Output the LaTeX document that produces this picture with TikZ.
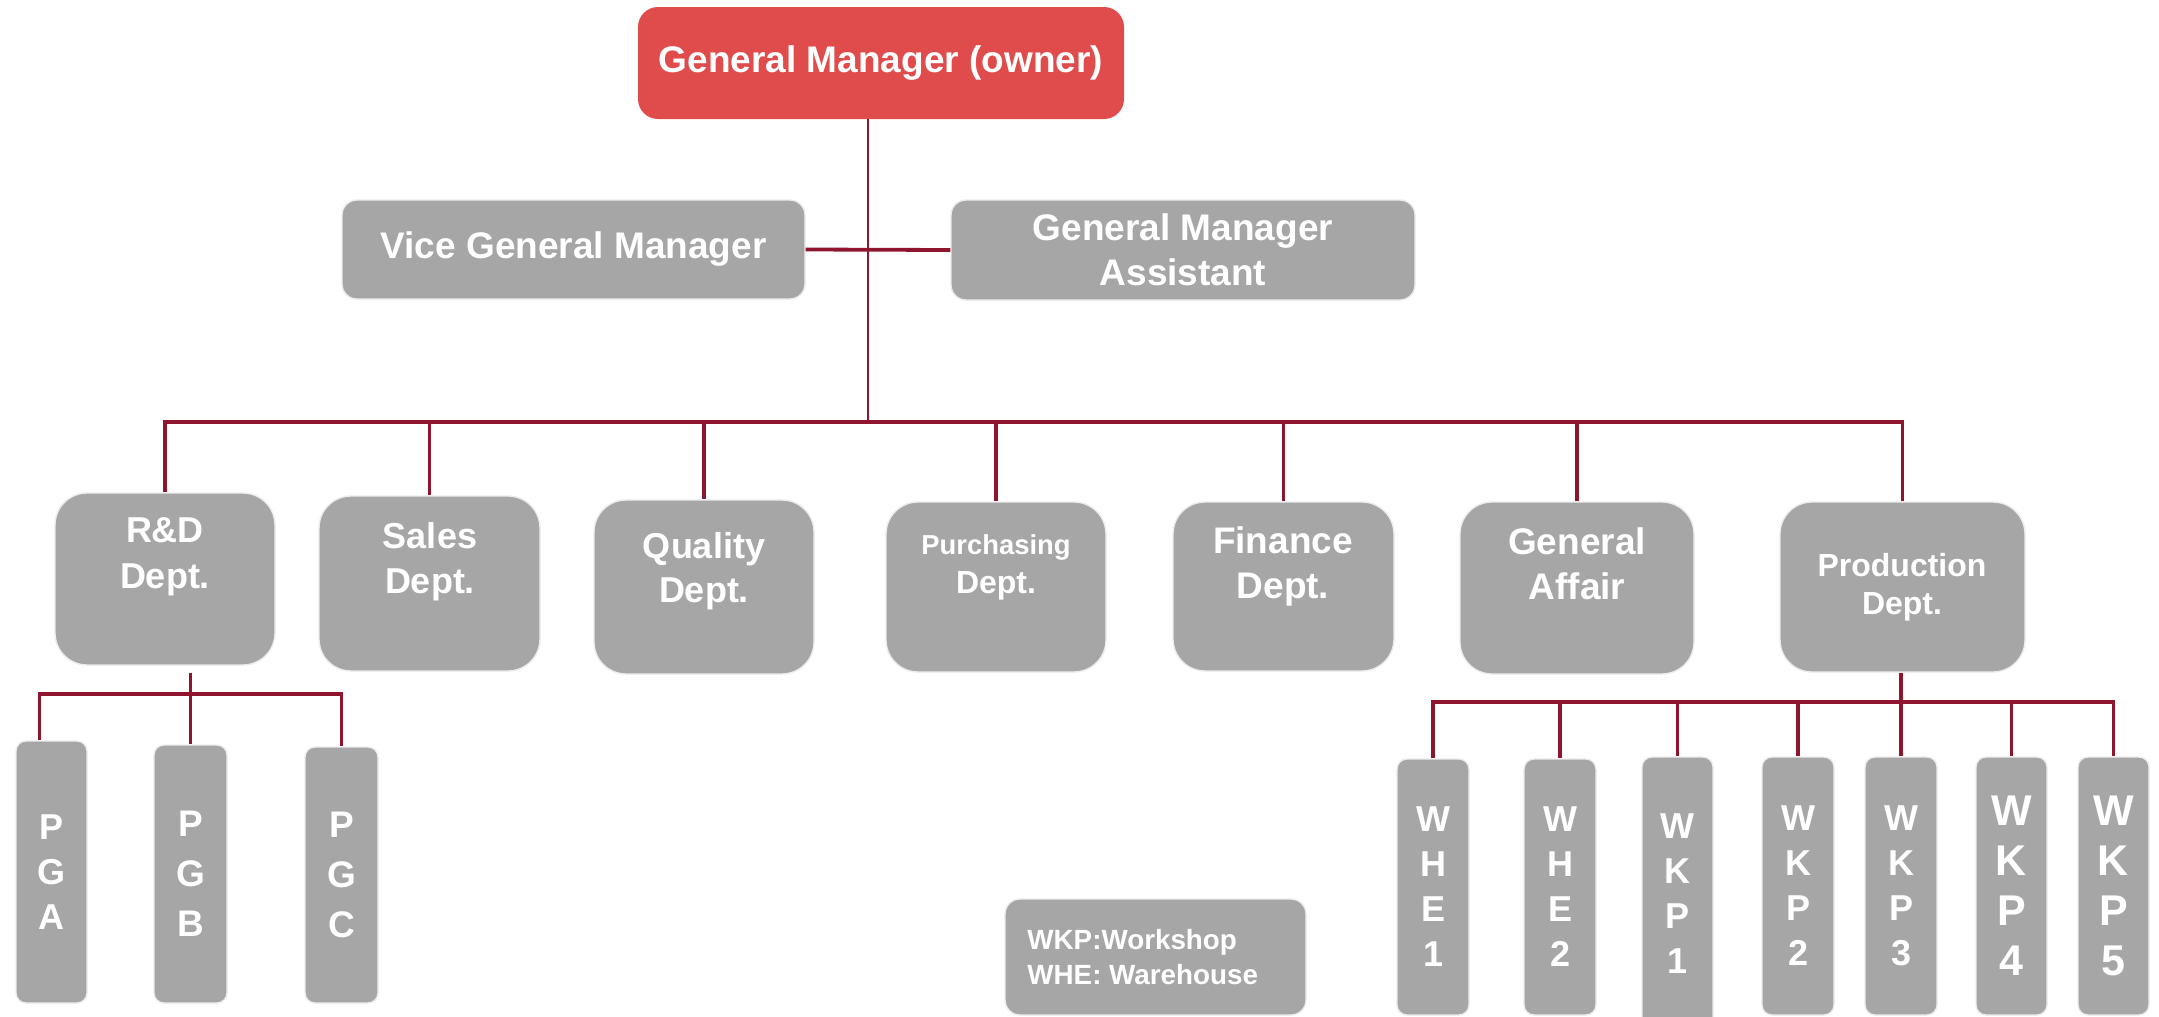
\documentclass[tikz,border=0pt]{standalone}
\usepackage{fontspec}
\setmainfont{Liberation Sans}
\usetikzlibrary{calc}
\definecolor{lnred}{RGB}{142,21,45}
\definecolor{gmred}{RGB}{224,75,75}
\definecolor{boxgray}{RGB}{166,166,166}
\definecolor{edgegray}{RGB}{236,236,236}
\begin{document}
\begin{tikzpicture}[x=0.5pt,y=-0.5pt,
  bigbox/.style={rectangle, rounded corners=16pt, fill=boxgray, draw=edgegray, line width=0.7pt, inner sep=0pt},
  midbox/.style={rectangle, rounded corners=7.5pt, fill=boxgray, draw=edgegray, line width=0.7pt, inner sep=0pt},
  slimbox/.style={rectangle, rounded corners=5pt, fill=boxgray, draw=edgegray, line width=0.7pt, inner sep=0pt},
  wtxt/.style={text=white, align=center, inner sep=0pt, font=\bfseries\fontsize{18.5}{22.5}\selectfont},
  vtxt/.style={text=white, align=center, font=\bfseries\fontsize{18}{22.5}\selectfont},
  conn/.style={draw=lnred, line width=1.9pt},
  trunk/.style={draw=lnred, line width=1.3pt}]
\useasboundingbox (0,0) rectangle (2159,1017);

% top level
\node[rectangle, rounded corners=10pt, fill=gmred, inner sep=0pt, minimum width=243pt, minimum height=56pt, text=white, font=\bfseries\fontsize{18.5}{22.5}\selectfont] (gm) at (881,63) {General Manager (owner)};
\node[midbox, minimum width=231.5pt, minimum height=49.5pt, wtxt] (vgm) at (573.5,249.5) {Vice General Manager};
\node[midbox, minimum width=232pt, minimum height=50pt, wtxt] (gma) at (1183,250) {General Manager\\Assistant};

% departments
\node[bigbox, minimum width=110pt, minimum height=86pt] (rd) at (165,579) {};
\node[bigbox, minimum width=110.5pt, minimum height=87.5pt] (sales) at (429.5,583.5) {};
\node[bigbox, minimum width=110pt, minimum height=87pt] (qual) at (704,587) {};
\node[bigbox, minimum width=110pt, minimum height=85pt] (purch) at (996,587) {};
\node[bigbox, minimum width=110.5pt, minimum height=84.5pt] (fin) at (1283.5,586.5) {};
\node[bigbox, minimum width=117pt, minimum height=86pt] (ga) at (1577,588) {};
\node[bigbox, minimum width=122.5pt, minimum height=85pt] (prod) at (1902.5,587) {};

\node[wtxt, font=\bfseries\fontsize{18}{23}\selectfont] (trd) at (165,557) {R\&D\\Dept.};
\node[wtxt, font=\bfseries\fontsize{18}{22.5}\selectfont] (tsales) at (430,562) {Sales\\Dept.};
\node[wtxt, font=\bfseries\fontsize{18}{22}\selectfont] (tqual) at (704,571) {Quality\\Dept.};
\node[wtxt, font=\bfseries\fontsize{16}{19.5}\selectfont] (tpurch) at (996,567) {{\fontsize{13.7}{19.5}\selectfont Purchasing}\\Dept.};
\node[wtxt, font=\bfseries\fontsize{18.5}{22.5}\selectfont] (tfin) at (1283,566) {Finance\\Dept.};
\node[wtxt, font=\bfseries\fontsize{18.5}{22.5}\selectfont] (tga) at (1577,564) {General\\Affair};
\node[wtxt, font=\bfseries\fontsize{16}{19}\selectfont] (tprod) at (1902,587) {Production\\Dept.};

% R&D groups
\node[slimbox, minimum width=35.5pt, minimum height=131pt, vtxt] (pga) at (51.5,872) {P\\G\\A};
\node[slimbox, minimum width=36.5pt, minimum height=129pt, vtxt, font=\bfseries\fontsize{18.5}{25}\selectfont] (pgb) at (190.5,874) {P\\G\\B};
\node[slimbox, minimum width=36.5pt, minimum height=128pt, vtxt, font=\bfseries\fontsize{18.5}{25}\selectfont] (pgc) at (341.5,875) {P\\G\\C};

% production units
\node[slimbox, minimum width=36pt, minimum height=128pt, vtxt] (whe1) at (1433,887) {W\\H\\E\\1};
\node[slimbox, minimum width=36pt, minimum height=128pt, vtxt] (whe2) at (1560,887) {W\\H\\E\\2};
\node[slimbox, minimum width=35.5pt, minimum height=136.5pt, vtxt] (wkp1) at (1677.5,893.5) {W\\K\\P\\1};
\node[slimbox, minimum width=36pt, minimum height=129pt, vtxt] (wkp2) at (1798,886) {W\\K\\P\\2};
\node[slimbox, minimum width=36pt, minimum height=129pt, vtxt] (wkp3) at (1901,886) {W\\K\\P\\3};
\node[slimbox, minimum width=35.5pt, minimum height=129pt, vtxt, font=\bfseries\fontsize{21.5}{25}\selectfont] (wkp4) at (2011.5,886) {W\\K\\P\\4};
\node[slimbox, minimum width=35.5pt, minimum height=129pt, vtxt, font=\bfseries\fontsize{21.5}{25}\selectfont] (wkp5) at (2113.5,886) {W\\K\\P\\5};

% legend
\node[midbox, minimum width=150.5pt, minimum height=58pt] (legend) at (1155.5,957) {};
\node[text=white, align=left, anchor=west, inner sep=0pt, font=\bfseries\fontsize{13.9}{17.5}\selectfont] (tlegend) at (1027,957.5) {WKP:Workshop\\WHE: Warehouse};

% connectors
\coordinate (bus) at (868,422);
\draw[trunk] ([xshift=-6.5pt]gm.south) -- ([xshift=-6.5pt]gm.south |- bus);
\draw[conn] (vgm.east) -- (gma.west);
\draw[conn] (rd.north) -- (rd.north |- bus) -- (prod.north |- bus) -- (prod.north);
\foreach \n in {sales,qual,purch,fin,ga} \draw[conn] (\n.north |- bus) -- (\n.north);

\coordinate (rdbus) at (0,694);
\draw[conn] ([xshift=-6pt]pga.north) -- ([xshift=-6pt]pga.north |- rdbus) -- (pgc.north |- rdbus) -- (pgc.north);
\draw[conn] ($(pgb.north |- rd.south)+(0,7)$) -- (pgb.north);

\coordinate (pbus) at (0,702);
\draw[conn] (whe1.north) -- (whe1.north |- pbus) -- (wkp5.north |- pbus) -- (wkp5.north);
\draw[conn] (wkp3.north |- prod.south) -- (wkp3.north);
\foreach \n in {whe2,wkp1,wkp2,wkp4} \draw[conn] (\n.north |- pbus) -- (\n.north);
\end{tikzpicture}
\end{document}
